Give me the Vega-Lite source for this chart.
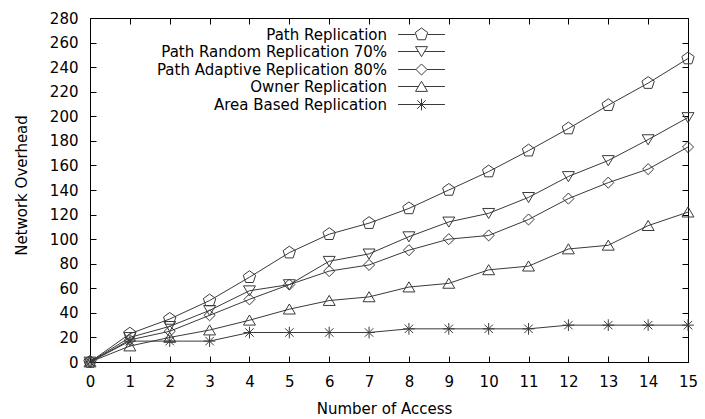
{
  "$schema": "https://vega.github.io/schema/vega-lite/v6.json",
  "width": 598,
  "height": 344,
  "autosize": "none",
  "padding": {"left": 90, "top": 18, "right": 17, "bottom": 57},
  "background": "white",
  "config": {
    "font": "DejaVu Sans",
    "view": {"stroke": "#000", "strokeWidth": 1},
    "axis": {"grid": false, "domain": false, "labelFont": "DejaVu Sans", "labelFontSize": 15, "labelColor": "#000", "titleFont": "DejaVu Sans", "titleFontSize": 15, "titleFontWeight": "normal", "titleColor": "#000", "tickColor": "#000", "tickSize": -6, "labelFlush": false, "labelOverlap": false}
  },
  "data": {"values": [
    {"access":0,"overhead":0,"series":"Path Replication"},
    {"access":1,"overhead":23,"series":"Path Replication"},
    {"access":2,"overhead":35,"series":"Path Replication"},
    {"access":3,"overhead":50,"series":"Path Replication"},
    {"access":4,"overhead":69,"series":"Path Replication"},
    {"access":5,"overhead":89,"series":"Path Replication"},
    {"access":6,"overhead":104,"series":"Path Replication"},
    {"access":7,"overhead":113,"series":"Path Replication"},
    {"access":8,"overhead":125,"series":"Path Replication"},
    {"access":9,"overhead":140,"series":"Path Replication"},
    {"access":10,"overhead":155,"series":"Path Replication"},
    {"access":11,"overhead":172,"series":"Path Replication"},
    {"access":12,"overhead":190,"series":"Path Replication"},
    {"access":13,"overhead":209,"series":"Path Replication"},
    {"access":14,"overhead":227,"series":"Path Replication"},
    {"access":15,"overhead":247,"series":"Path Replication"},
    {"access":0,"overhead":0,"series":"Path Random Replication 70%"},
    {"access":1,"overhead":20,"series":"Path Random Replication 70%"},
    {"access":2,"overhead":29,"series":"Path Random Replication 70%"},
    {"access":3,"overhead":42,"series":"Path Random Replication 70%"},
    {"access":4,"overhead":58,"series":"Path Random Replication 70%"},
    {"access":5,"overhead":63,"series":"Path Random Replication 70%"},
    {"access":6,"overhead":82,"series":"Path Random Replication 70%"},
    {"access":7,"overhead":88,"series":"Path Random Replication 70%"},
    {"access":8,"overhead":102,"series":"Path Random Replication 70%"},
    {"access":9,"overhead":114,"series":"Path Random Replication 70%"},
    {"access":10,"overhead":121,"series":"Path Random Replication 70%"},
    {"access":11,"overhead":134,"series":"Path Random Replication 70%"},
    {"access":12,"overhead":151,"series":"Path Random Replication 70%"},
    {"access":13,"overhead":164,"series":"Path Random Replication 70%"},
    {"access":14,"overhead":181,"series":"Path Random Replication 70%"},
    {"access":15,"overhead":199,"series":"Path Random Replication 70%"},
    {"access":0,"overhead":0,"series":"Path Adaptive Replication 80%"},
    {"access":1,"overhead":18,"series":"Path Adaptive Replication 80%"},
    {"access":2,"overhead":25,"series":"Path Adaptive Replication 80%"},
    {"access":3,"overhead":38,"series":"Path Adaptive Replication 80%"},
    {"access":4,"overhead":51,"series":"Path Adaptive Replication 80%"},
    {"access":5,"overhead":63,"series":"Path Adaptive Replication 80%"},
    {"access":6,"overhead":74,"series":"Path Adaptive Replication 80%"},
    {"access":7,"overhead":79,"series":"Path Adaptive Replication 80%"},
    {"access":8,"overhead":91,"series":"Path Adaptive Replication 80%"},
    {"access":9,"overhead":100,"series":"Path Adaptive Replication 80%"},
    {"access":10,"overhead":103,"series":"Path Adaptive Replication 80%"},
    {"access":11,"overhead":116,"series":"Path Adaptive Replication 80%"},
    {"access":12,"overhead":133,"series":"Path Adaptive Replication 80%"},
    {"access":13,"overhead":146,"series":"Path Adaptive Replication 80%"},
    {"access":14,"overhead":157,"series":"Path Adaptive Replication 80%"},
    {"access":15,"overhead":175,"series":"Path Adaptive Replication 80%"},
    {"access":0,"overhead":0,"series":"Owner Replication"},
    {"access":1,"overhead":13,"series":"Owner Replication"},
    {"access":2,"overhead":20,"series":"Owner Replication"},
    {"access":3,"overhead":26,"series":"Owner Replication"},
    {"access":4,"overhead":34,"series":"Owner Replication"},
    {"access":5,"overhead":43,"series":"Owner Replication"},
    {"access":6,"overhead":50,"series":"Owner Replication"},
    {"access":7,"overhead":53,"series":"Owner Replication"},
    {"access":8,"overhead":61,"series":"Owner Replication"},
    {"access":9,"overhead":64,"series":"Owner Replication"},
    {"access":10,"overhead":75,"series":"Owner Replication"},
    {"access":11,"overhead":78,"series":"Owner Replication"},
    {"access":12,"overhead":92,"series":"Owner Replication"},
    {"access":13,"overhead":95,"series":"Owner Replication"},
    {"access":14,"overhead":111,"series":"Owner Replication"},
    {"access":15,"overhead":122,"series":"Owner Replication"},
    {"access":0,"overhead":0,"series":"Area Based Replication"},
    {"access":1,"overhead":17,"series":"Area Based Replication"},
    {"access":2,"overhead":17,"series":"Area Based Replication"},
    {"access":3,"overhead":17,"series":"Area Based Replication"},
    {"access":4,"overhead":24,"series":"Area Based Replication"},
    {"access":5,"overhead":24,"series":"Area Based Replication"},
    {"access":6,"overhead":24,"series":"Area Based Replication"},
    {"access":7,"overhead":24,"series":"Area Based Replication"},
    {"access":8,"overhead":27,"series":"Area Based Replication"},
    {"access":9,"overhead":27,"series":"Area Based Replication"},
    {"access":10,"overhead":27,"series":"Area Based Replication"},
    {"access":11,"overhead":27,"series":"Area Based Replication"},
    {"access":12,"overhead":30,"series":"Area Based Replication"},
    {"access":13,"overhead":30,"series":"Area Based Replication"},
    {"access":14,"overhead":30,"series":"Area Based Replication"},
    {"access":15,"overhead":30,"series":"Area Based Replication"}
  ]},
  "layer": [
    {
      "mark": {"type": "line", "color": "#3a3a3a", "strokeWidth": 1},
      "encoding": {
        "x": {"field": "access", "type": "quantitative", "scale": {"domain": [0, 15], "nice": false, "zero": false},
              "axis": {"orient": "bottom", "title": "Number of Access", "values": [0,1,2,3,4,5,6,7,8,9,10,11,12,13,14,15], "labelPadding": 18, "titleX": 294, "titleY": 51, "titleBaseline": "alphabetic", "titleAlign": "center"}},
        "y": {"field": "overhead", "type": "quantitative", "scale": {"domain": [0, 280], "nice": false},
              "axis": {"orient": "left", "title": "Network Overhead", "values": [0,20,40,60,80,100,120,140,160,180,200,220,240,260,280], "labelPadding": 18, "titleX": -63.5, "titleY": 167, "titleAngle": 270, "titleBaseline": "alphabetic", "titleAlign": "center"}},
        "detail": {"field": "series"}
      }
    },
    {
      "mark": {"type": "point", "filled": false, "color": "#3a3a3a", "strokeWidth": 1, "size": 169, "opacity": 1},
      "encoding": {
        "x": {"field": "access", "type": "quantitative", "axis": {"orient": "top", "title": null, "labels": false, "values": [0,1,2,3,4,5,6,7,8,9,10,11,12,13,14,15]}},
        "y": {"field": "overhead", "type": "quantitative", "axis": {"orient": "right", "title": null, "labels": false, "values": [0,20,40,60,80,100,120,140,160,180,200,220,240,260,280]}},
        "shape": {"field": "series", "type": "nominal", "legend": null,
          "scale": {"domain": ["Path Replication","Path Random Replication 70%","Path Adaptive Replication 80%","Owner Replication","Area Based Replication"],
                    "range": ["M0,-1L0.951,-0.309L0.588,0.809L-0.588,0.809L-0.951,-0.309Z",
                              "M0,0.8L0.92,-0.75L-0.92,-0.75Z",
                              "M0,-0.85L0.85,0L0,0.85L-0.85,0Z",
                              "M0,-0.8L0.92,0.75L-0.92,0.75Z",
                              "M-0.9,0L0.9,0M0,-0.9L0,0.9M-0.65,-0.65L0.65,0.65M-0.65,0.65L0.65,-0.65"]}}
      }
    },
    {
      "mark": {"type": "point", "filled": false, "color": "#3a3a3a", "strokeWidth": 1, "size": 169, "opacity": 0},
      "encoding": {
        "x": {"field": "access", "type": "quantitative", "axis": null},
        "y": {"field": "overhead", "type": "quantitative", "axis": null},
        "shape": {"field": "series", "type": "nominal",
          "scale": {"domain": ["Path Replication","Path Random Replication 70%","Path Adaptive Replication 80%","Owner Replication","Area Based Replication"],
                    "range": ["M0,-1L0.951,-0.309L0.588,0.809L-0.588,0.809L-0.951,-0.309ZM-3.6,0L-0.951,0M0.951,0L3.6,0",
                              "M0,0.8L0.92,-0.75L-0.92,-0.75ZM-3.6,0L-0.47,0M0.47,0L3.6,0",
                              "M0,-0.85L0.85,0L0,0.85L-0.85,0ZM-3.6,0L-0.85,0M0.85,0L3.6,0",
                              "M0,-0.8L0.92,0.75L-0.92,0.75ZM-3.6,0L-0.47,0M0.47,0L3.6,0",
                              "M-0.9,0L0.9,0M0,-0.9L0,0.9M-0.65,-0.65L0.65,0.65M-0.65,0.65L0.65,-0.65M-3.6,0L3.6,0"]},
          "legend": {"orient": "none", "legendX": 324, "legendY": 9, "title": null, "padding": 0,
                     "symbolOpacity": 1, "symbolSize": 169, "symbolStrokeColor": "#3a3a3a", "symbolFillColor": "transparent", "symbolStrokeWidth": 1,
                     "labelAlign": "right", "labelOffset": -42, "labelFont": "DejaVu Sans", "labelFontSize": 15, "labelColor": "#000", "labelLimit": 400, "rowPadding": 1}}
      }
    }
  ],
  "resolve": {"scale": {"shape": "independent"}, "axis": {"x": "independent", "y": "independent"}}
}
